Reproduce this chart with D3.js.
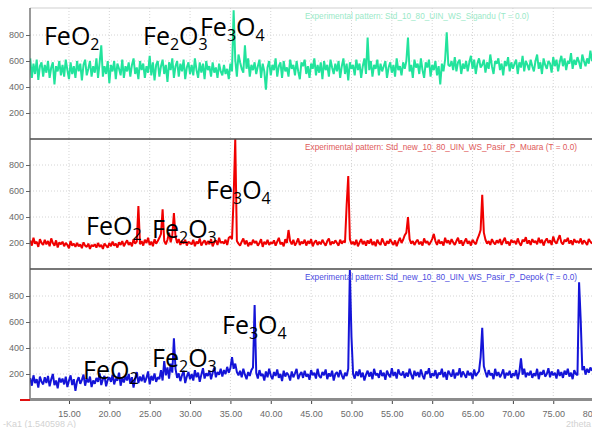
<!DOCTYPE html>
<html>
<head>
<meta charset="utf-8">
<script src="https://cdn.jsdelivr.net/npm/d3@7"></script>
<style>
  body { margin: 0; background: #fff; }
  svg { display: block; font-family: "Liberation Sans", Arial, sans-serif; }
  .tick text { fill: #6a6a6a; font-size: 9px; }
  .note { font-family: "Open Sans", "Noto Sans", sans-serif; font-size: 25px; fill: #000; }
</style>
</head>
<body>
<div id="chart"></div>
<script>
var svgWidth = 592;
var svgHeight = 428;

// 2theta sampling of the three patterns
var twoThetaStart = 10.2;
var twoThetaStep = 0.2;

var xTicks = [15, 20, 25, 30, 35, 40, 45, 50, 55, 60, 65, 70, 75, 80];
var yTicks = [200, 400, 600, 800];

var sampleNames = [
  "Experimental pattern: Std_10_80_UIN_WS_Sigandu (T = 0.0)",
  "Experimental pattern: Std_new_10_80_UIN_WS_Pasir_P_Muara (T = 0.0)",
  "Experimental pattern: Std_new_10_80_UIN_WS_Pasir_P_Depok (T = 0.0)"
];
var nameWidths = [224, 272, 272];

var sigandu = [
  620,470,580,500,610,455,560,590,480,570,
  510,600,470,550,590,420,560,520,600,490,
  570,480,610,530,460,590,500,560,470,600,
  520,580,450,570,610,490,540,600,480,560,
  510,620,470,590,720,480,560,500,600,430,
  570,520,600,460,580,540,490,610,470,560,
  520,590,480,570,620,500,550,460,600,530,
  580,470,560,510,640,490,590,450,570,600,
  480,560,610,500,570,440,590,530,620,470,
  560,600,480,580,520,610,460,550,590,500,
  570,490,620,530,470,590,510,580,460,600,
  530,560,480,590,510,550,470,580,520,490,
  570,500,540,460,580,520,990,610,480,650,
  590,540,510,720,540,620,480,570,530,590,
  500,560,610,470,580,520,380,550,600,490,
  570,530,620,480,560,590,470,600,520,550,
  480,610,540,570,490,600,520,460,590,560,
  610,500,560,470,580,540,620,490,570,510,
  590,460,600,530,570,480,610,550,500,580,
  520,600,470,560,620,500,580,450,590,540,
  570,490,610,530,580,470,560,620,500,780,
  530,600,480,570,540,610,490,580,520,560,
  600,470,550,590,510,570,480,620,530,560,
  490,590,540,600,780,520,570,470,610,550,
  580,500,620,530,470,590,550,610,480,570,
  530,600,490,560,420,580,520,610,820,570,
  560,600,530,630,520,590,610,500,580,540,
  600,520,590,640,540,610,500,580,620,550,
  570,610,510,590,540,650,560,500,600,580,
  620,530,580,490,600,560,630,520,590,540,
  580,610,500,590,550,640,520,600,570,530,
  610,560,520,600,650,540,590,500,620,570,
  540,600,580,510,630,560,610,520,590,640,
  560,620,530,600,580,660,540,610,570,630,
  590,540,650,600,560,620,580,680,600
];

var pasirMuara = [
  220,180,240,195,210,170,230,200,185,225,
  190,215,175,235,200,180,220,165,205,190,
  210,175,200,185,160,215,180,195,170,200,
  175,190,160,205,180,170,195,155,185,175,
  190,165,200,170,185,155,195,180,165,200,
  175,210,180,195,165,205,185,215,175,200,
  220,185,205,175,230,195,210,485,190,215,
  180,225,200,240,185,210,175,230,195,215,
  240,270,460,215,190,225,280,205,260,430,
  250,200,230,185,215,195,225,180,210,200,
  190,225,175,210,195,235,180,205,220,185,
  215,190,230,175,205,220,185,240,200,210,
  195,225,185,240,250,230,550,1000,215,195,
  180,210,235,190,220,175,205,185,225,200,
  215,180,200,230,170,210,190,225,185,205,
  195,220,180,210,240,190,205,175,230,200,
  300,215,190,225,180,205,235,185,210,195,
  225,180,215,195,230,175,205,220,185,210,
  190,225,200,180,215,235,185,210,195,220,
  200,180,225,195,215,205,490,715,230,190,
  210,185,225,175,205,230,190,215,180,220,
  195,230,185,210,175,225,200,185,235,205,
  180,215,195,230,205,185,220,175,210,240,
  200,225,260,280,400,230,195,215,185,210,
  225,190,210,180,235,200,215,185,205,230,
  270,215,185,225,195,210,180,240,200,220,
  190,230,205,185,215,240,195,220,180,210,
  235,195,215,180,225,205,190,230,260,300,
  570,280,225,195,215,185,230,205,190,220,
  200,230,185,215,240,195,210,180,225,205,
  215,190,235,200,180,225,210,245,195,220,
  185,230,205,215,190,240,200,225,180,215,
  235,200,220,185,250,210,195,230,260,205,
  190,225,210,240,195,220,185,230,205,215,
  200,235,190,220,205,185,230,210,195
];

var pasirDepok = [
  170,110,190,130,160,95,180,140,120,175,
  130,185,105,160,200,115,150,90,170,135,
  165,120,180,100,150,190,115,160,70,145,
  175,125,155,195,110,165,135,180,100,150,
  125,170,140,205,115,160,185,105,155,175,
  140,195,120,165,150,210,110,170,135,185,
  150,200,125,175,95,165,215,130,180,145,
  195,135,170,220,120,185,150,205,140,175,
  160,230,150,300,190,250,165,280,210,475,
  240,170,205,145,190,225,130,180,215,160,
  200,150,230,175,210,140,195,245,165,205,
  185,225,160,210,250,175,215,195,240,180,
  230,200,255,210,245,330,240,280,215,190,
  225,175,240,195,160,215,185,230,250,730,
  210,165,230,185,200,150,220,175,240,190,
  160,215,185,235,170,200,145,225,180,210,
  190,150,220,175,205,240,160,195,215,170,
  225,180,200,155,230,190,210,165,240,185,
  170,215,190,235,160,205,180,225,150,200,
  215,175,230,190,160,210,185,240,1000,485,
  200,165,220,185,235,175,210,150,195,225,
  180,215,160,240,190,205,170,230,185,210,
  155,225,195,175,245,185,215,165,235,200,
  190,220,170,210,180,240,195,160,225,185,
  215,175,235,190,160,220,200,245,170,205,
  185,230,165,210,195,240,175,215,155,225,
  200,180,235,165,210,190,245,175,220,195,
  170,225,190,210,160,235,185,205,220,330,
  555,260,215,175,230,190,205,160,240,185,
  215,175,200,235,165,210,190,225,170,205,
  185,230,160,215,320,195,240,175,210,190,
  225,170,205,185,240,160,215,195,230,180,
  200,245,175,220,190,210,165,235,185,215,
  170,225,195,240,180,210,160,230,200,190,
  905,615,230,260,195,240,210,250,225
];

var seriesList = [sigandu, pasirMuara, pasirDepok];
var lineColors = ["#22e39c", "#f00000", "#1414d8"];
var nameColors = ["#9ae9c8", "#e05a5a", "#4a4ae0"];

// phase labels: [text, subscript, text, subscript], 2theta, intensity in its panel
var phaseLabels = [
  [ {parts: ["Fe", "", "O", "2"], x: 11.9, y: 723},
    {parts: ["Fe", "2", "O", "3"], x: 24.17, y: 723},
    {parts: ["Fe", "3", "O", "4"], x: 31.23, y: 792} ],
  [ {parts: ["Fe", "", "O", "2"], x: 17.11, y: 262},
    {parts: ["Fe", "2", "O", "3"], x: 25.29, y: 238},
    {parts: ["Fe", "3", "O", "4"], x: 31.98, y: 540} ],
  [ {parts: ["Fe", "", "O", "2"], x: 16.74, y: 162},
    {parts: ["Fe", "2", "O", "3"], x: 25.29, y: 254},
    {parts: ["Fe", "3", "O", "4"], x: 33.96, y: 508} ]
];

var panels = [
  {top: 8, bottom: 139},
  {top: 139, bottom: 269},
  {top: 269, bottom: 400}
];

var svg = d3.select("#chart")
  .append("svg")
  .attr("width", svgWidth)
  .attr("height", svgHeight);

var xScale = d3.scaleLinear()
  .domain([10.17, 79.8])
  .range([30, 592]);

var defs = svg.append("defs");

panels.forEach(function(p, i) {
  var yScale = d3.scaleLinear()
    .domain([0, (p.bottom - p.top) / 0.13])
    .range([p.bottom, p.top]);

  defs.append("clipPath")
    .attr("id", "clip" + i)
    .append("rect")
    .attr("x", 30)
    .attr("y", p.top)
    .attr("width", svgWidth - 30)
    .attr("height", p.bottom - p.top);

  var g = svg.append("g");

  // grid
  g.selectAll(".hgrid")
    .data(yTicks)
    .enter()
    .append("line")
    .attr("x1", 30)
    .attr("x2", svgWidth)
    .attr("y1", d => yScale(d))
    .attr("y2", d => yScale(d))
    .attr("stroke", "#d4d4d4")
    .attr("stroke-dasharray", "1,2");

  g.selectAll(".vgrid")
    .data(xTicks)
    .enter()
    .append("line")
    .attr("x1", d => xScale(d))
    .attr("x2", d => xScale(d))
    .attr("y1", p.top)
    .attr("y2", p.bottom)
    .attr("stroke", "#d4d4d4")
    .attr("stroke-dasharray", "1,2");

  var leftAxis = d3.axisLeft(yScale)
    .tickValues(yTicks)
    .tickSize(4)
    .tickPadding(2);

  var ax = g.append("g")
    .attr("transform", "translate(30,0)")
    .call(leftAxis);
  ax.select(".domain").remove();
  ax.selectAll(".tick line").attr("stroke", "#666");

  var values = seriesList[i];
  var line = d3.line()
    .x((d, k) => xScale(twoThetaStart + k * twoThetaStep))
    .y(d => yScale(d));

  g.append("path")
    .datum(values)
    .attr("clip-path", "url(#clip" + i + ")")
    .attr("fill", "none")
    .attr("stroke", lineColors[i])
    .attr("stroke-width", 2)
    .attr("stroke-linejoin", "bevel")
    .attr("d", line);

  g.append("text")
    .attr("x", 305)
    .attr("y", p.top + 11)
    .attr("font-size", "8.6px")
    .attr("textLength", nameWidths[i])
    .attr("lengthAdjust", "spacingAndGlyphs")
    .attr("fill", nameColors[i])
    .text(sampleNames[i]);

  var notes = g.selectAll(".note")
    .data(phaseLabels[i])
    .enter()
    .append("text")
    .attr("class", "note")
    .attr("x", d => xScale(d.x))
    .attr("y", d => yScale(d.y));

  notes.each(function(d) {
    var t = d3.select(this);
    t.append("tspan").text(d.parts[0]);
    if (d.parts[1]) {
      t.append("tspan").attr("font-size", "16px").attr("dy", 5).text(d.parts[1]);
      t.append("tspan").attr("dy", -5).text(d.parts[2]);
    } else {
      t.append("tspan").text(d.parts[2]);
    }
    t.append("tspan").attr("font-size", "16px").attr("dy", 5).text(d.parts[3]);
  });

  // panel separator
  g.append("line")
    .attr("x1", 30)
    .attr("x2", svgWidth)
    .attr("y1", p.top)
    .attr("y2", p.top)
    .attr("stroke", i == 0 ? "#cfcfcf" : "#4a4a4a")
    .attr("stroke-width", i == 0 ? 1 : 1.5);
});

// left axis line
svg.append("line")
  .attr("x1", 30)
  .attr("x2", 30)
  .attr("y1", 8)
  .attr("y2", 400)
  .attr("stroke", "#555")
  .attr("stroke-width", 1.2);

// bottom axis
var bottomAxis = d3.axisBottom(xScale)
  .tickValues(xTicks)
  .tickFormat(d3.format(".2f"))
  .tickSize(4)
  .tickPadding(7);

var bx = svg.append("g")
  .attr("transform", "translate(0,400)")
  .call(bottomAxis);
bx.select(".domain").remove();
bx.selectAll(".tick line").attr("stroke", "#444");

svg.append("rect")
  .attr("x", 30)
  .attr("y", 398)
  .attr("width", svgWidth - 30)
  .attr("height", 3)
  .attr("fill", "#8c8c8c");

svg.append("line")
  .attr("x1", 20)
  .attr("x2", 30)
  .attr("y1", 400)
  .attr("y2", 400)
  .attr("stroke", "#e01010")
  .attr("stroke-width", 2);

svg.append("text")
  .attr("x", 3)
  .attr("y", 427)
  .attr("font-size", "9px")
  .attr("fill", "#d2d2d2")
  .text("-Ka1 (1.540598 A)");

svg.append("text")
  .attr("x", 566)
  .attr("y", 427)
  .attr("font-size", "9px")
  .attr("fill", "#d2d2d2")
  .text("2theta");
</script>
</body>
</html>
